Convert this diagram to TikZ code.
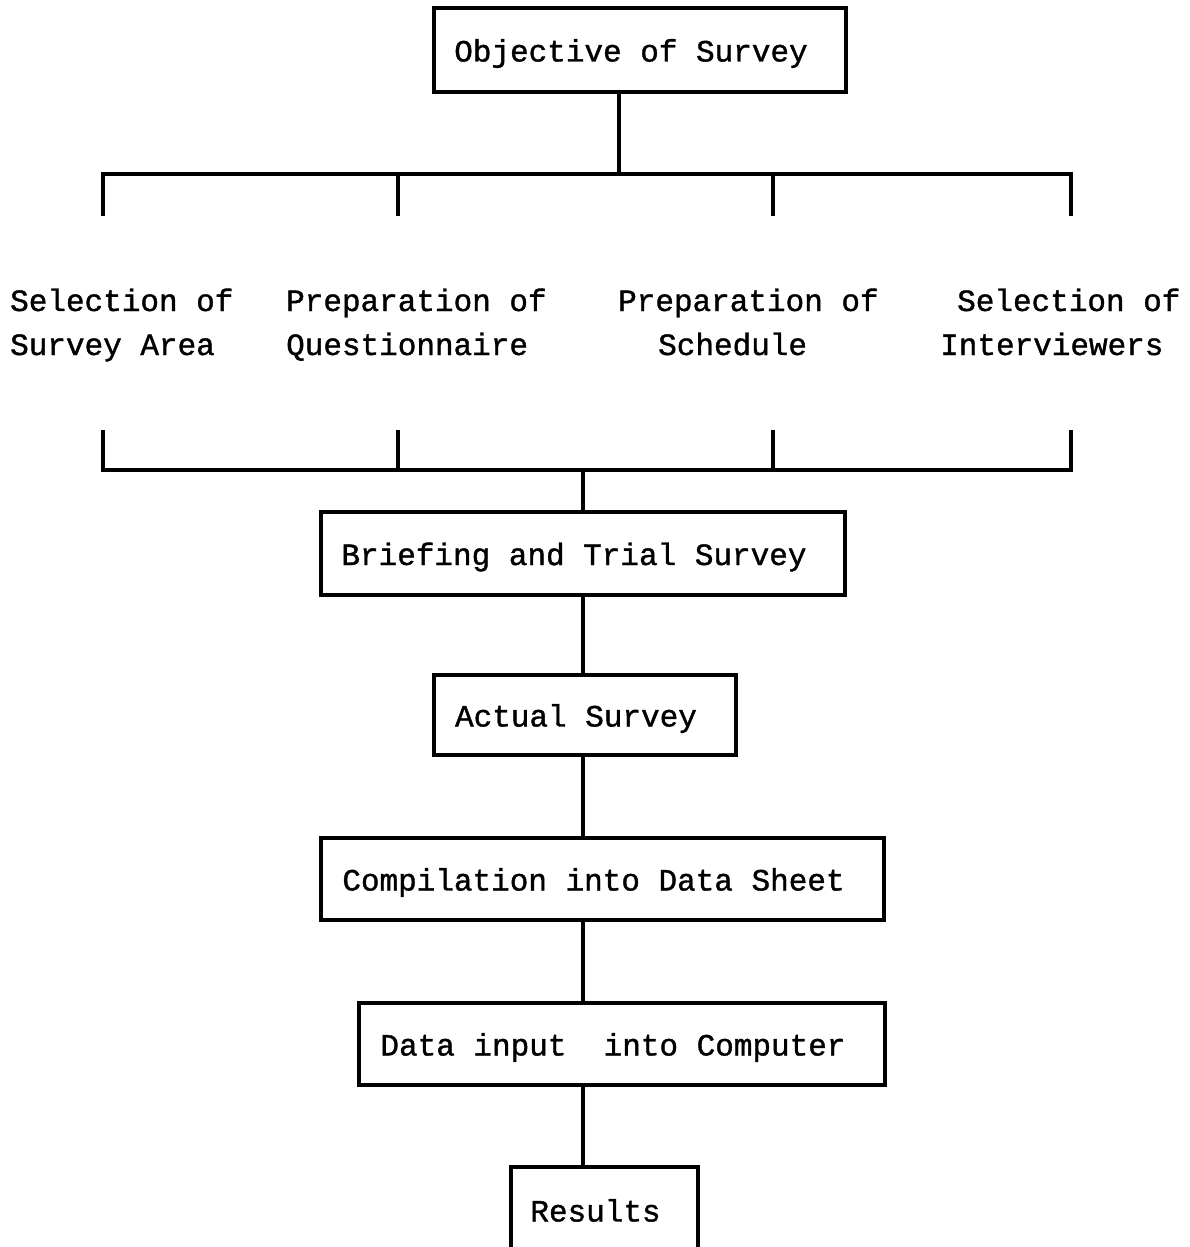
\documentclass[tikz,border=0pt]{standalone}
\usepackage{fontspec}
\setmonofont{Liberation Mono}[BoldFont={Liberation Mono},BoldFeatures={FakeBold=1.2}]
\begin{document}
\begin{tikzpicture}[x=1pt,y=-1pt,
  every node/.style={font=\ttfamily\bfseries\fontsize{31}{37}\selectfont},
  stepbox/.style={draw, line width=3.2pt, inner sep=0pt, outer sep=0pt,
    text height=23pt, text depth=0pt,
    execute at begin node={\hspace*{-18pt}}},
  conn/.style={line width=3.2pt},
  lbl/.style={anchor=base west, inner sep=0pt}]
\useasboundingbox (0,0) rectangle (1190,1247);
\fill[white] (0,0) rectangle (1190,1247);

% boxes
\node[stepbox, minimum width=412pt, minimum height=84pt] (obj) at (640,50) {Objective of Survey};
\node[stepbox, minimum width=524pt, minimum height=83pt] (brief) at (583,553.5) {Briefing and Trial Survey};
\node[stepbox, minimum width=302pt, minimum height=80pt] (actual) at (585,715) {Actual Survey};
\node[stepbox, minimum width=563pt, minimum height=82pt] (comp) at (602.5,879) {Compilation into Data Sheet};
\node[stepbox, minimum width=526pt, minimum height=82pt] (data) at (622,1044) {Data input\ \ into Computer};
\node[stepbox, minimum width=187pt, minimum height=86pt] (res) at (604.5,1210) {Results};

% labels
\node[lbl] (l1a) at (10,311) {Selection of};
\node[lbl] (l1b) at (10,355) {Survey Area};
\node[lbl] (l2a) at (286,311) {Preparation of};
\node[lbl] (l2b) at (286,355) {Questionnaire};
\node[lbl] (l3a) at (618,311) {Preparation of};
\node[lbl] (l3b) at (658,355) {Schedule};
\node[lbl] (l4a) at (957,311) {Selection of};
\node[lbl] (l4b) at (940,355) {Interviewers};

% coordinates
\coordinate (up) at (619,174);
\coordinate (ta) at (103,174);
\coordinate (tb) at (398,174);
\coordinate (tc) at (773,174);
\coordinate (td) at (1071,174);
\coordinate (ta2) at (103,216);
\coordinate (tb2) at (398,216);
\coordinate (tc2) at (773,216);
\coordinate (td2) at (1071,216);
\coordinate (ba) at (103,430);
\coordinate (bb) at (398,430);
\coordinate (bc) at (773,430);
\coordinate (bd) at (1071,430);
\coordinate (ba2) at (103,470);
\coordinate (bb2) at (398,470);
\coordinate (bc2) at (773,470);
\coordinate (bd2) at (1071,470);
\coordinate (spine) at (583,470);

% connectors
\draw[conn] (obj.south -| up) -- (up);
\draw[conn] (ta2) -- (ta) -- (td) -- (td2);
\draw[conn] (tb) -- (tb2);
\draw[conn] (tc) -- (tc2);
\draw[conn] (ba) -- (ba2) -- (bd2) -- (bd);
\draw[conn] (bb) -- (bb2);
\draw[conn] (bc) -- (bc2);
\draw[conn] (spine) -- (brief.north -| spine);
\draw[conn] (brief.south -| spine) -- (actual.north -| spine);
\draw[conn] (actual.south -| spine) -- (comp.north -| spine);
\draw[conn] (comp.south -| spine) -- (data.north -| spine);
\draw[conn] (data.south -| spine) -- (res.north -| spine);
\end{tikzpicture}
\end{document}
